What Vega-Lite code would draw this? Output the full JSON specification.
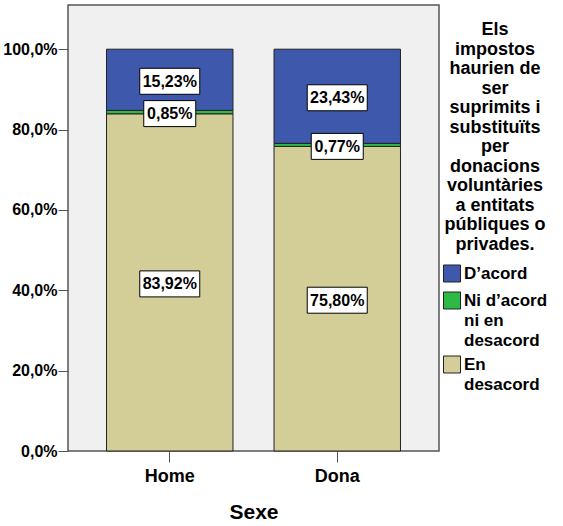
{
  "$schema": "https://vega.github.io/schema/vega-lite/v6.json",
  "width": 371,
  "height": 446,
  "autosize": "none",
  "padding": {"left": 68, "top": 5, "right": 124, "bottom": 75},
  "background": "white",
  "config": {
    "font": "Liberation Sans",
    "view": {"fill": "#f0f0f0", "stroke": "#555555", "strokeWidth": 1.5},
    "style": {"guide-label": {"lineHeight": 20}}
  },
  "data": {
    "values": [
      {"sexe": "Home", "resposta": "D’acord", "pct": 15.23},
      {"sexe": "Home", "resposta": "Ni d’acord ni en desacord", "pct": 0.85},
      {"sexe": "Home", "resposta": "En desacord", "pct": 83.92},
      {"sexe": "Dona", "resposta": "D’acord", "pct": 23.43},
      {"sexe": "Dona", "resposta": "Ni d’acord ni en desacord", "pct": 0.77},
      {"sexe": "Dona", "resposta": "En desacord", "pct": 75.80}
    ]
  },
  "transform": [
    {"calculate": "indexof(['En desacord','Ni d’acord ni en desacord','D’acord'], datum.resposta)", "as": "ordre"},
    {"stack": "pct", "groupby": ["sexe"], "sort": [{"field": "ordre", "order": "ascending"}], "as": ["y0", "y1"]},
    {"calculate": "(datum.y0 + datum.y1) / 2", "as": "mid"},
    {"calculate": "replace(format(datum.pct, '.2f'), '.', ',') + '%'", "as": "etiqueta"}
  ],
  "encoding": {
    "x": {
      "field": "sexe",
      "type": "nominal",
      "sort": ["Home", "Dona"],
      "scale": {"paddingInner": 0.245, "paddingOuter": 0.23},
      "axis": {
        "title": "Sexe",
        "titleFontSize": 21,
        "titleFontWeight": "bold",
        "titleColor": "black",
        "titlePadding": 16,
        "labelAngle": 0,
        "labelFontSize": 18,
        "labelFontWeight": "bold",
        "labelColor": "black",
        "labelPadding": 5,
        "tickSize": 11,
        "tickColor": "#555555",
        "domain": false
      }
    }
  },
  "layer": [
    {
      "mark": {"type": "bar", "stroke": "#222222", "strokeWidth": 1},
      "encoding": {
        "y": {
          "field": "y1",
          "type": "quantitative",
          "scale": {"domain": [0, 111], "nice": false},
          "axis": {
            "title": null,
            "values": [0, 20, 40, 60, 80, 100],
            "labelExpr": "replace(format(datum.value, '.1f'), '.', ',') + '%'",
            "labelFontSize": 16,
            "labelFontWeight": "bold",
            "labelColor": "black",
            "labelPadding": 1,
            "tickSize": 10,
            "tickColor": "#555555",
            "grid": false,
            "domain": false
          }
        },
        "y2": {"field": "y0"},
        "color": {
          "field": "resposta",
          "type": "nominal",
          "scale": {
            "domain": ["D’acord", "Ni d’acord ni en desacord", "En desacord"],
            "range": ["#3e58ac", "#2eb848", "#d3ce97"]
          },
          "legend": {
            "orient": "none",
            "legendX": 375,
            "legendY": 16,
            "title": ["Els", "impostos", "haurien de", "ser", "suprimits i", "substituïts", "per", "donacions", "voluntàries", "a entitats", "públiques o", "privades."],
            "titleFontSize": 18,
            "titleFontWeight": "bold",
            "titleColor": "black",
            "titleLineHeight": 19.5,
            "titleAlign": "center",
            "titleAnchor": "middle",
            "titlePadding": 11,
            "titleLimit": 200,
            "labelFontSize": 17,
            "labelFontWeight": "bold",
            "labelColor": "black",
            "labelLimit": 200,
            "labelOffset": 3,
            "labelExpr": "datum.label == 'Ni d’acord ni en desacord' ? ['Ni d’acord', 'ni en', 'desacord'] : datum.label == 'En desacord' ? ['En', 'desacord'] : datum.label",
            "symbolType": "square",
            "symbolSize": 289,
            "symbolStrokeColor": "#222222",
            "symbolStrokeWidth": 1,
            "rowPadding": 5,
            "padding": 0
          }
        },
        "order": {"field": "ordre", "type": "quantitative"}
      }
    },
    {
      "mark": {"type": "point", "filled": true, "fill": "white", "stroke": "black", "strokeWidth": 1, "opacity": 1, "size": 3600, "yOffset": 1.5},
      "encoding": {
        "y": {"field": "mid", "type": "quantitative"},
        "shape": {
          "condition": {"test": "length(datum.etiqueta) > 5", "value": "M-1,-0.4333H1V0.4333H-1Z"},
          "value": "M-0.8667,-0.4333H0.8667V0.4333H-0.8667Z"
        }
      }
    },
    {
      "mark": {"type": "text", "font": "Liberation Sans", "fontSize": 16, "fontWeight": "bold", "color": "black", "baseline": "middle", "align": "center", "yOffset": 2},
      "encoding": {
        "y": {"field": "mid", "type": "quantitative"},
        "text": {"field": "etiqueta"}
      }
    }
  ]
}
